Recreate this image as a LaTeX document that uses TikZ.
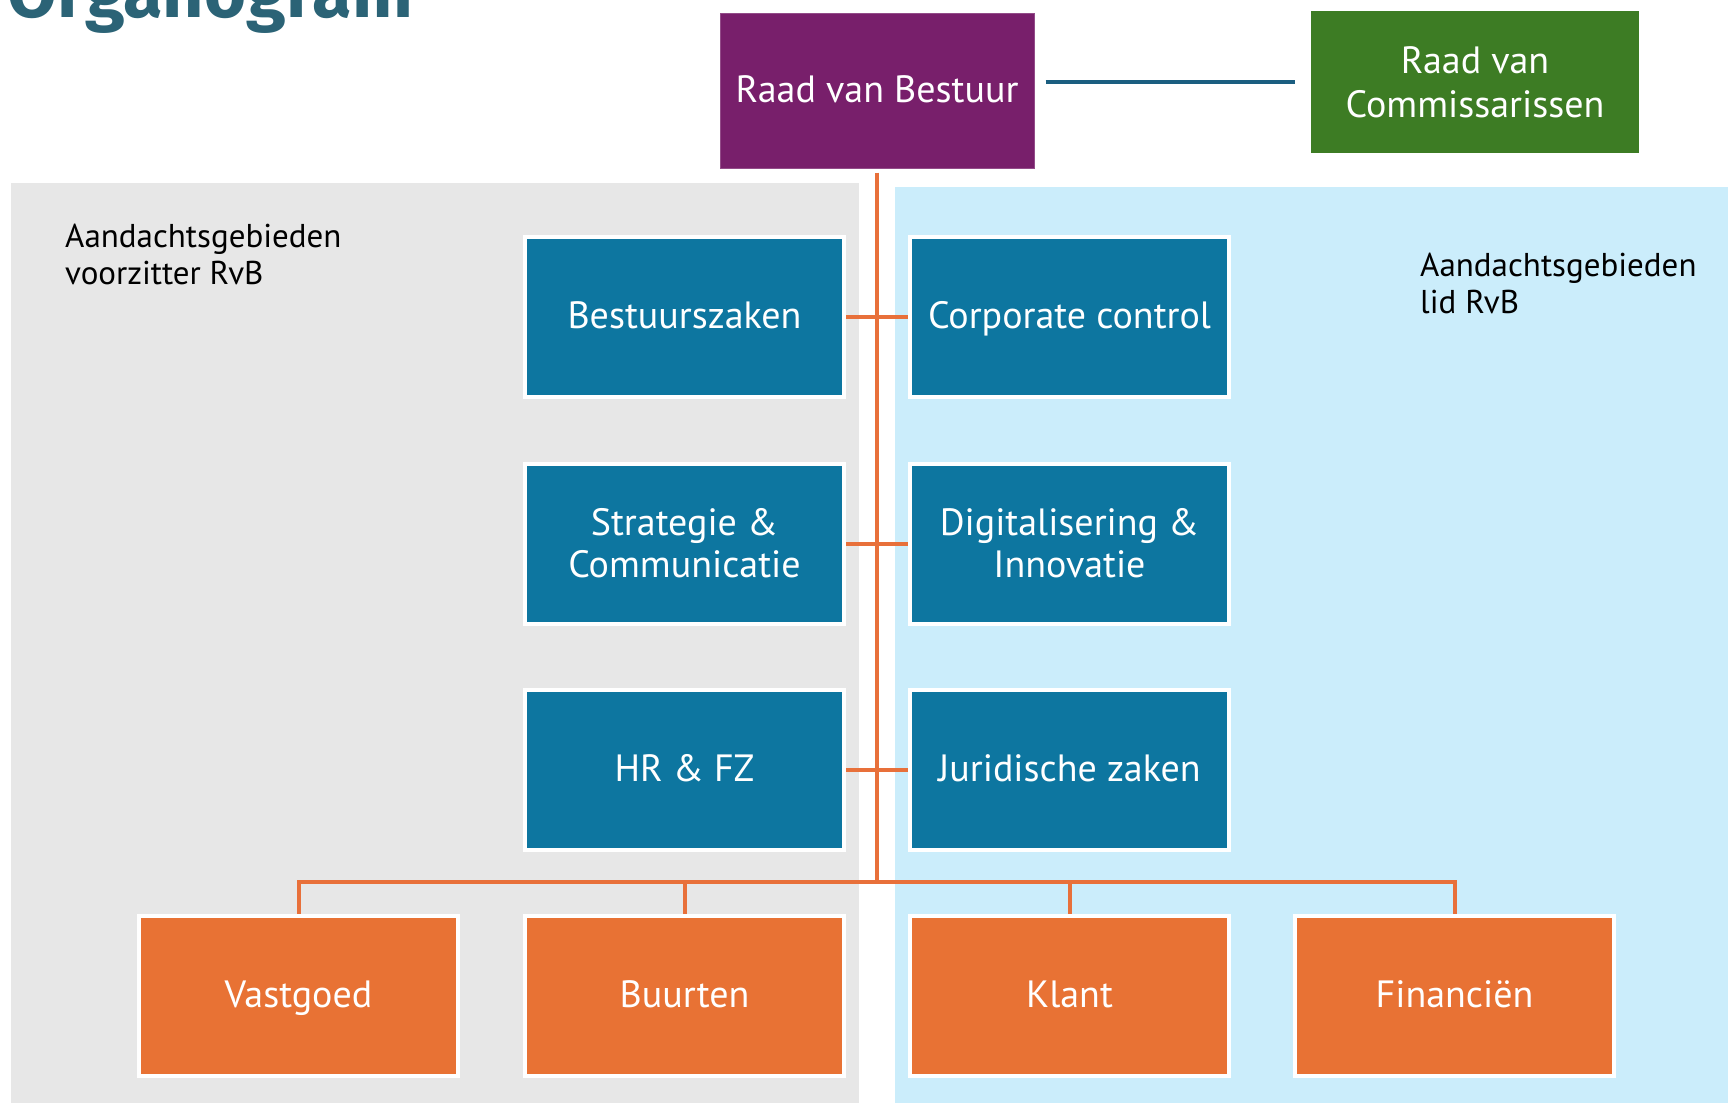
\documentclass[tikz,border=0pt]{standalone}
\usepackage{fontspec}
\setmainfont{PT Sans}
\newfontfamily\titlefont{Fira Sans}
\definecolor{greyp}{HTML}{E7E7E7}
\definecolor{bluep}{HTML}{CBEDFB}
\definecolor{boxblue}{HTML}{0D76A0}
\definecolor{boxorange}{HTML}{E87234}
\definecolor{linkorange}{HTML}{E8703A}
\definecolor{rvbpurple}{HTML}{781F6B}
\definecolor{rvcgreen}{HTML}{3D7C24}
\definecolor{titleteal}{HTML}{2B6376}
\definecolor{rvclink}{HTML}{1B5E80}
\tikzset{
  unitbox/.style={rectangle, draw=white, line width=4pt, inner sep=0pt,
    minimum width=319pt, minimum height=160pt, text=white, align=center,
    font=\fontsize{38}{42}\selectfont},
  oneline/.style={text height=27pt, text depth=4pt},
  bluebox/.style={unitbox, fill=boxblue},
  orangebox/.style={unitbox, fill=boxorange, oneline},
  topbox/.style={rectangle, inner sep=0pt, text=white, align=center,
    font=\fontsize{38}{44}\selectfont},
  areatext/.style={inner sep=0pt, align=left, anchor=base west,
    font=\fontsize{33}{37}\selectfont},
  orgline/.style={draw=linkorange, line width=4pt},
}
\begin{document}
\begin{tikzpicture}[x=1pt,y=-1pt]
\useasboundingbox (0,0) rectangle (1728,1103);
% panels
\fill[greyp] (11,183) rectangle (859,1103);
\fill[bluep] (895,187) rectangle (1728,1103);
% title
\node[anchor=base east, inner sep=0pt, text=titleteal,
  font=\titlefont\bfseries\fontsize{72}{72}\selectfont] (title) at (413,17) {Organogram};
% top boxes
\node[topbox, oneline, fill=rvbpurple, draw=rvbpurple!80!white, line width=1pt,
  minimum width=314pt, minimum height=155pt] (rvb) at (877,90.5) {Raad van Bestuur};
\node[topbox, fill=rvcgreen, minimum width=328pt, minimum height=142pt] (rvc) at (1475,82) {Raad van\\Commissarissen};
% area labels (anchored at the baseline of their last line)
\node[areatext] (lblL) at (65,284) {Aandachtsgebieden\\voorzitter RvB};
\node[areatext] (lblR) at (1420,313) {Aandachtsgebieden\\lid RvB};
% blue boxes
\node[bluebox, oneline] (bz) at (684.5,317) {Bestuurszaken};
\node[bluebox] (sc) at (684.5,543.5) {Strategie \&\\Communicatie};
\node[bluebox, oneline] (hr) at (684.5,769.5) {HR \& FZ};
\node[bluebox, oneline] (cc) at (1069.5,317) {Corporate control};
\node[bluebox] (di) at (1069.5,543.5) {Digitalisering \&\\Innovatie};
\node[bluebox, oneline] (jz) at (1069.5,769.5) {Juridische zaken};
% orange boxes
\node[orangebox] (vg) at (298.5,995.5) {Vastgoed};
\node[orangebox] (bu) at (684.5,995.5) {Buurten};
\node[orangebox] (kl) at (1069.5,995.5) {Klant};
\node[orangebox] (fi) at (1454.5,995.5) {Financiën};
% connectors
\coordinate (bus) at (877,882);
\draw[draw=rvclink, line width=4pt, shorten <=11pt, shorten >=16pt] (rvb.east |- rvc.west) -- (rvc.west);
\draw[orgline, shorten <=4pt] (rvb.south) -- (bus);
\draw[orgline] (bz.east) -- (cc.west);
\draw[orgline] (sc.east) -- (di.west);
\draw[orgline] (hr.east) -- (jz.west);
\draw[orgline] (vg.north) -- (vg.north |- bus) -- (fi.north |- bus) -- (fi.north);
\draw[orgline] (bu.north |- bus) -- (bu.north);
\draw[orgline] (kl.north |- bus) -- (kl.north);
\end{tikzpicture}
\end{document}
